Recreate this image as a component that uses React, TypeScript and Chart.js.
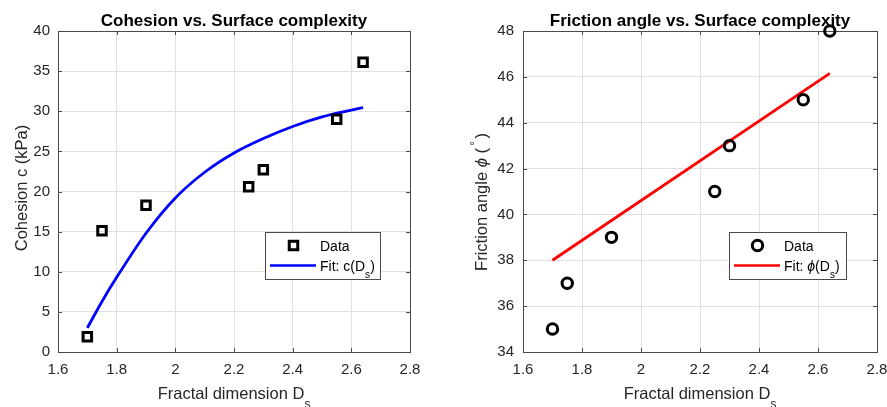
import React, { useEffect, useRef } from "react";
import { Chart, registerables } from "chart.js";
Chart.register(...registerables);

// ---- data ----
const DS = [1.7, 1.75, 1.9, 2.25, 2.3, 2.55, 2.64];
const COHESION = [1.9, 15.1, 18.3, 20.6, 22.7, 29.0, 36.1];
const FRICTION = [35, 37, 39, 41, 43, 45, 48];
const FIT_C_X = [1.7, 1.75, 1.8, 1.9, 2.0, 2.1, 2.2, 2.3, 2.4, 2.5, 2.6, 2.64];
const FIT_C_Y = [3.0, 6.3, 9.3, 14.8, 19.2, 22.4, 24.8, 26.6, 28.1, 29.3, 30.15, 30.45];
const FIT_PHI_X = [1.7, 2.64];
const FIT_PHI_Y = [38.0, 46.15];
const X_TICKS = [1.6, 1.8, 2, 2.2, 2.4, 2.6, 2.8];
const C_TICKS = [0, 5, 10, 15, 20, 25, 30, 35, 40];
const PHI_TICKS = [34, 36, 38, 40, 42, 44, 46, 48];

const FONT = '"Liberation Sans", Arial, Helvetica, sans-serif';
const AXIS_COLOR = "#4a4a4a";
const TEXT_COLOR = "#262626";
const GRID_COLOR = "#e0e0e0";

type Seg = { t: string; s?: "i" | "sub" | "sup" };

function drawRich(
  ctx: CanvasRenderingContext2D,
  segs: Seg[],
  x: number,
  y: number,
  size: number,
  align: "left" | "center",
  weight = "normal"
) {
  const fontFor = (seg: Seg) => {
    const sz = seg.s === "sub" || seg.s === "sup" ? size * 0.72 : size;
    return `${seg.s === "i" ? "italic " : ""}${weight} ${sz}px ${FONT}`;
  };
  let total = 0;
  for (const seg of segs) {
    ctx.font = fontFor(seg);
    total += ctx.measureText(seg.t).width;
  }
  let cx = align === "center" ? x - total / 2 : x;
  ctx.textAlign = "left";
  ctx.textBaseline = "alphabetic";
  for (const seg of segs) {
    ctx.font = fontFor(seg);
    const dy = seg.s === "sub" ? size * 0.55 : seg.s === "sup" ? -size * 0.45 : 0;
    ctx.fillText(seg.t, cx, y + dy);
    cx += ctx.measureText(seg.t).width;
  }
}

type DecorCfg = {
  id: string;
  title: string;
  xLabel: Seg[];
  yLabel: Seg[];
  yLabelPos: [number, number];
  xTicks: number[];
  yTicks: number[];
  legend: { x: number; y: number; w: number; h: number };
  marker: "rect" | "circle";
  lineColor: string;
  fitLabel: Seg[];
};

function makeDecor(cfg: DecorCfg) {
  return {
    id: "decor_" + cfg.id,
    beforeDatasetsDraw(chart: any) {
      const { ctx, chartArea: a, scales } = chart;
      ctx.save();
      ctx.strokeStyle = AXIS_COLOR;
      ctx.lineWidth = 1;
      ctx.beginPath();
      const tl = 4;
      for (const v of cfg.xTicks) {
        const px = Math.round(scales.x.getPixelForValue(v)) + 0.5;
        ctx.moveTo(px, a.bottom);
        ctx.lineTo(px, a.bottom - tl);
        ctx.moveTo(px, a.top);
        ctx.lineTo(px, a.top + tl);
      }
      for (const v of cfg.yTicks) {
        const py = Math.round(scales.y.getPixelForValue(v)) + 0.5;
        ctx.moveTo(a.left, py);
        ctx.lineTo(a.left + tl, py);
        ctx.moveTo(a.right, py);
        ctx.lineTo(a.right - tl, py);
      }
      ctx.stroke();
      ctx.strokeRect(
        Math.round(a.left) + 0.5,
        Math.round(a.top) + 0.5,
        Math.round(a.right - a.left),
        Math.round(a.bottom - a.top)
      );
      ctx.restore();
    },
    afterDraw(chart: any) {
      const { ctx, chartArea: a } = chart;
      const cxm = (a.left + a.right) / 2;
      ctx.save();
      // title
      ctx.fillStyle = "#000";
      ctx.font = `bold 17px ${FONT}`;
      ctx.textAlign = "center";
      ctx.textBaseline = "alphabetic";
      ctx.fillText(cfg.title, cxm, 25.5);
      // x label
      ctx.fillStyle = TEXT_COLOR;
      drawRich(ctx, cfg.xLabel, cxm, 399, 16.5, "center");
      // y label
      ctx.save();
      ctx.translate(cfg.yLabelPos[0], cfg.yLabelPos[1]);
      ctx.rotate(-Math.PI / 2);
      drawRich(ctx, cfg.yLabel, 0, 0, 16.5, "center");
      ctx.restore();
      // legend
      const L = cfg.legend;
      ctx.fillStyle = "#fff";
      ctx.fillRect(L.x, L.y, L.w, L.h);
      ctx.strokeStyle = AXIS_COLOR;
      ctx.lineWidth = 1;
      ctx.strokeRect(L.x + 0.5, L.y + 0.5, L.w, L.h);
      const r1 = L.y + 13.5;
      const r2 = L.y + 33.5;
      const mx = L.x + 28.5;
      ctx.strokeStyle = "#000";
      ctx.lineWidth = 3;
      if (cfg.marker === "rect") {
        ctx.strokeRect(mx - 4.25, r1 - 4.25, 8.5, 8.5);
      } else {
        ctx.beginPath();
        ctx.arc(mx, r1, 5.2, 0, Math.PI * 2);
        ctx.stroke();
      }
      ctx.strokeStyle = cfg.lineColor;
      ctx.lineWidth = 2.5;
      ctx.beginPath();
      ctx.moveTo(L.x + 5, r2);
      ctx.lineTo(L.x + 51, r2);
      ctx.stroke();
      ctx.fillStyle = "#000";
      drawRich(ctx, [{ t: "Data" }], L.x + 55, r1 + 5, 14, "left");
      drawRich(ctx, cfg.fitLabel, L.x + 55, r2 + 5, 14, "left");
      ctx.restore();
    },
  };
}

function fmt(v: number) {
  return String(Number(v.toFixed(1)));
}

function buildConfig(opts: {
  data: { x: number; y: number }[];
  fit: { x: number; y: number }[];
  marker: "rect" | "circle";
  color: string;
  yMin: number;
  yMax: number;
  yTicks: number[];
  yWidth: number;
  yPad: number;
  padRight: number;
  decor: any;
  monotone: boolean;
}) {
  return {
    type: "scatter" as const,
    data: {
      datasets: [
        {
          label: "Data",
          data: opts.data,
          pointStyle: opts.marker,
          pointRadius: opts.marker === "rect" ? 6 : 5.2,
          borderWidth: 3,
          borderColor: "#000",
          backgroundColor: "rgba(0,0,0,0)",
          clip: false,
        },
        {
          label: "Fit",
          data: opts.fit,
          showLine: true,
          pointRadius: 0,
          borderColor: opts.color,
          borderWidth: 2.8,
          backgroundColor: opts.color,
          cubicInterpolationMode: opts.monotone ? "monotone" : "default",
          clip: false,
        },
      ],
    },
    options: {
      responsive: false,
      animation: false,
      events: [],
      devicePixelRatio: 1,
      layout: { padding: { left: 0, right: opts.padRight, top: 31, bottom: 0 } },
      plugins: { legend: { display: false }, tooltip: { enabled: false }, title: { display: false } },
      scales: {
        x: {
          type: "linear",
          min: 1.6,
          max: 2.8,
          afterBuildTicks: (s: any) => {
            s.ticks = X_TICKS.map((v) => ({ value: v }));
          },
          afterFit: (s: any) => {
            s.height = 55;
            s.paddingLeft = 0;
            s.paddingRight = 0;
          },
          grid: { color: GRID_COLOR, drawTicks: false, lineWidth: 1 },
          border: { display: false },
          ticks: {
            padding: 9,
            color: TEXT_COLOR,
            font: { family: FONT, size: 15 },
            maxRotation: 0,
            autoSkip: false,
            callback: (v: any) => fmt(Number(v)),
          },
        },
        y: {
          type: "linear",
          min: opts.yMin,
          max: opts.yMax,
          afterBuildTicks: (s: any) => {
            s.ticks = opts.yTicks.map((v) => ({ value: v }));
          },
          afterFit: (s: any) => {
            s.width = opts.yWidth;
            s.paddingTop = 0;
            s.paddingBottom = 0;
          },
          grid: { color: GRID_COLOR, drawTicks: false, lineWidth: 1 },
          border: { display: false },
          ticks: {
            padding: opts.yPad,
            color: TEXT_COLOR,
            font: { family: FONT, size: 15 },
            autoSkip: false,
            callback: (v: any) => fmt(Number(v)),
          },
        },
      },
    },
    plugins: [opts.decor],
  };
}

export default function App() {
  const leftRef = useRef<HTMLCanvasElement | null>(null);
  const rightRef = useRef<HTMLCanvasElement | null>(null);

  useEffect(() => {
    const leftDecor = makeDecor({
      id: "c",
      title: "Cohesion vs. Surface complexity",
      xLabel: [{ t: "Fractal dimension D" }, { t: "s", s: "sub" }],
      yLabel: [{ t: "Cohesion c (kPa)" }],
      yLabelPos: [26.7, 188],
      xTicks: X_TICKS,
      yTicks: C_TICKS,
      legend: { x: 265, y: 232, w: 115, h: 47 },
      marker: "rect",
      lineColor: "#0000ff",
      fitLabel: [{ t: "Fit: c(D" }, { t: "s", s: "sub" }, { t: ")" }],
    });
    const rightDecor = makeDecor({
      id: "phi",
      title: "Friction angle vs. Surface complexity",
      xLabel: [{ t: "Fractal dimension D" }, { t: "s", s: "sub" }],
      yLabel: [
        { t: "Friction angle " },
        { t: "\u03D5", s: "i" },
        { t: " (" },
        { t: "\u2009\u00B0\u2009", s: "sup" },
        { t: ")" },
      ],
      yLabelPos: [43.7, 202],
      xTicks: X_TICKS,
      yTicks: PHI_TICKS,
      legend: { x: 286, y: 232, w: 117, h: 47 },
      marker: "circle",
      lineColor: "#ff0000",
      fitLabel: [{ t: "Fit: " }, { t: "\u03D5", s: "i" }, { t: "(D" }, { t: "s", s: "sub" }, { t: ")" }],
    });

    const left = new Chart(
      leftRef.current as HTMLCanvasElement,
      buildConfig({
        data: DS.map((x, i) => ({ x, y: COHESION[i] })),
        fit: FIT_C_X.map((x, i) => ({ x, y: FIT_C_Y[i] })),
        marker: "rect",
        color: "#0000ff",
        yMin: 0,
        yMax: 40,
        yTicks: C_TICKS,
        yWidth: 58,
        yPad: 8,
        padRight: 33,
        decor: leftDecor,
        monotone: true,
      }) as any
    );
    const right = new Chart(
      rightRef.current as HTMLCanvasElement,
      buildConfig({
        data: DS.map((x, i) => ({ x, y: FRICTION[i] })),
        fit: FIT_PHI_X.map((x, i) => ({ x, y: FIT_PHI_Y[i] })),
        marker: "circle",
        color: "#ff0000",
        yMin: 34,
        yMax: 48,
        yTicks: PHI_TICKS,
        yWidth: 80,
        yPad: 9,
        padRight: 10,
        decor: rightDecor,
        monotone: false,
      }) as any
    );
    return () => {
      left.destroy();
      right.destroy();
    };
  }, []);

  return (
    <div
      style={{
        position: "fixed",
        left: 0,
        top: 0,
        width: 887,
        height: 407,
        background: "#fff",
        overflow: "hidden",
      }}
    >
      <canvas
        ref={leftRef}
        width={443}
        height={407}
        style={{ position: "absolute", left: 0, top: 0, width: 443, height: 407 }}
      />
      <canvas
        ref={rightRef}
        width={444}
        height={407}
        style={{ position: "absolute", left: 443, top: 0, width: 444, height: 407 }}
      />
    </div>
  );
}
